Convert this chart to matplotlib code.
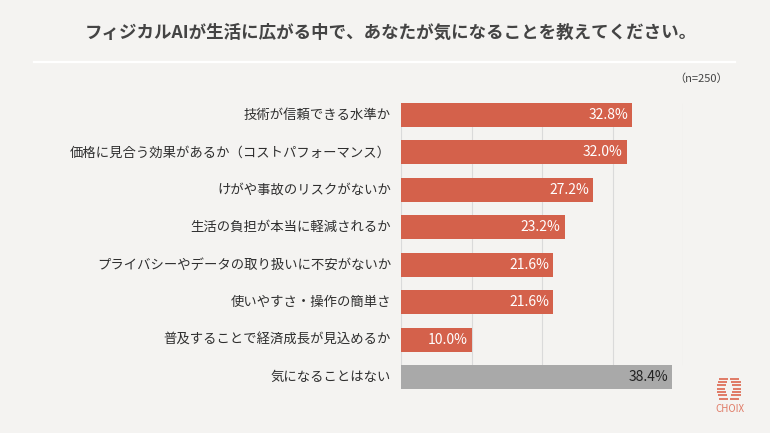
import matplotlib
matplotlib.use("Agg")
import matplotlib.pyplot as plt
from matplotlib.lines import Line2D

plt.rcParams['font.family'] = ['Noto Sans CJK JP', 'DejaVu Sans']

# -----------------------------------------------------------------------------
# Data
# -----------------------------------------------------------------------------
title = "フィジカルAIが生活に広がる中で、あなたが気になることを教えてください。"
sample_note = "（n=250）"
categories = [
    "技術が信頼できる水準か",
    "価格に見合う効果があるか（コストパフォーマンス）",
    "けがや事故のリスクがないか",
    "生活の負担が本当に軽減されるか",
    "プライバシーやデータの取り扱いに不安がないか",
    "使いやすさ・操作の簡単さ",
    "普及することで経済成長が見込めるか",
    "気になることはない",
]
values = [32.8, 32.0, 27.2, 23.2, 21.6, 21.6, 10.0, 38.4]
grid_ticks = [0, 10, 20, 30, 40]

# -----------------------------------------------------------------------------
# Style
# -----------------------------------------------------------------------------
BG = "#F4F3F1"
CORAL = "#D4614B"
GRAY = "#A9A9A9"
TEXT = "#2E2E2E"
BAR_H = 0.64

W, H = 770, 433
fig = plt.figure(figsize=(W / 100, H / 100), dpi=100, facecolor=BG)

# axes placed by pixel box: x 401..683, y 103..389
ax = fig.add_axes([401 / W, 1 - 389 / H, (683 - 401) / W, (389 - 103) / H])
ax.set_facecolor(BG)

pos = list(range(len(categories)))
colors = [CORAL] * (len(values) - 1) + [GRAY]

ax.set_xlim(0, 40)
ax.set_ylim(len(categories) - 1 + BAR_H / 2, -BAR_H / 2)

# vertical guides, from top of first bar to top of last bar
ax.vlines(grid_ticks, -BAR_H / 2, pos[-1] - BAR_H / 2,
          colors="#DADADA", linewidth=0.8, zorder=0)

ax.barh(pos, values, height=BAR_H, color=colors, zorder=2)

for p, v, c in zip(pos, values, colors):
    txt_color = "white" if c == CORAL else "#222222"
    ax.text(v - 0.55, p, f"{v:.1f}%", ha="right", va="center",
            fontsize=10, color=txt_color, zorder=3)

for p, cat in zip(pos, categories):
    ax.text(-1.4, p, cat, ha="right", va="center", fontsize=9.6,
            color=TEXT, clip_on=False)

for s in ax.spines.values():
    s.set_visible(False)
ax.set_xticks([])
ax.set_yticks([])

# title, divider, sample size
fig.text(390.5 / W, 1 - 33 / H, title, ha="center", va="center",
         fontsize=12.6, fontweight="bold", color="#444444")
fig.add_artist(Line2D([34 / W, 735 / W], [1 - 61.7 / H, 1 - 61.7 / H],
                      color="white", linewidth=1.6))
fig.text(728 / W, 1 - 79 / H, sample_note, ha="right", va="center",
         fontsize=8, color="#444444")

# logo (CHOIX)
logo_c = "#E07A66"
stripes_y = [379, 382, 385.3, 388.6, 391.9, 395.2, 398.5]
inner_gap = [1.0, 2.0, 3.2, 4.2, 3.2, 2.0, 1.0]
outer = [2.0, 0.5, 0, 0, 0, 0.5, 2.0]
cx = 729
for yy, g, o in zip(stripes_y, inner_gap, outer):
    for side in (-1, 1):
        x_in = cx + side * g
        x_out = cx + side * (12 - o)
        fig.add_artist(Line2D([x_in / W, x_out / W], [1 - yy / H, 1 - yy / H],
                              color=logo_c, linewidth=1.4, solid_capstyle="butt"))
fig.text(730 / W, 1 - 409 / H, "CHOIX", ha="center", va="center",
         fontsize=7, color=logo_c)

fig.savefig("out.png", dpi=100, facecolor=BG)
